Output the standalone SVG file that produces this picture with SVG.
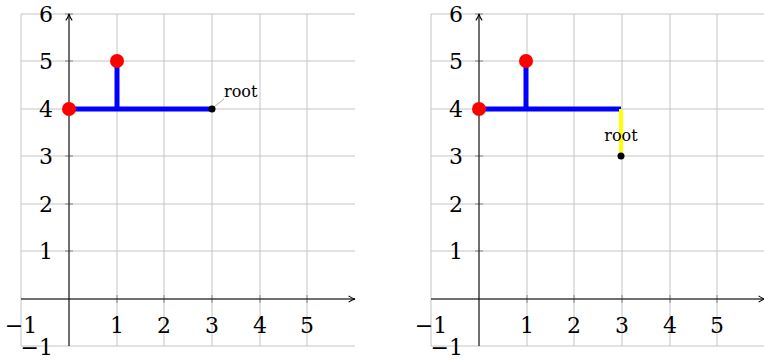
<svg xmlns="http://www.w3.org/2000/svg" width="764" height="360" viewBox="0 0 764 360">
<style>
.grid{stroke:#c4c4c4;stroke-width:1;fill:none}
.axis{stroke:#000;stroke-width:1;fill:none}
.tick{stroke:#888;stroke-width:1}
.num{font-family:'DejaVu Serif',serif;font-size:22px;fill:#000}
.lbl{font-family:'DejaVu Serif',serif;font-size:16px;fill:#000}
.edge{stroke:#0000ff;stroke-width:5;fill:none}
.yel{stroke:#ffff00;stroke-width:4;fill:none}
.red{fill:#ff0000}
.blk{fill:#000}
</style>
<defs>
<marker id="arr" viewBox="0 0 10 10" refX="9" refY="5" markerWidth="8" markerHeight="8" markerUnits="userSpaceOnUse" orient="auto">
<path d="M1,1 Q5,4 9,5 Q5,6 1,9" fill="none" stroke="#000" stroke-width="1.3"/>
</marker>
</defs>
<g id="plot-left">
<g class="grid">
<path d="M21,14V346M69,14V346M117,14V346M164,14V346M212,14V346M260,14V346M307,14V346"/>
<path d="M21,14H355M21,61H355M21,109H355M21,156H355M21,204H355M21,251H355M21,299H355M21,346H355"/>
</g>
<g class="tick">
<path d="M117,295V303M164,295V303M212,295V303M260,295V303M307,295V303M65,61H73M65,109H73M65,156H73M65,204H73M65,251H73M65,14H73"/>
</g>
<path class="axis" d="M21,299H355" marker-end="url(#arr)"/>
<path class="axis" d="M69,346V14" marker-end="url(#arr)"/>
<g class="num" text-anchor="middle">
<text x="21" y="333">−1</text>
<text x="117" y="333">1</text>
<text x="164" y="333">2</text>
<text x="212" y="333">3</text>
<text x="260" y="333">4</text>
<text x="307" y="333">5</text>
</g>
<g class="num" text-anchor="end">
<text x="53" y="22">6</text>
<text x="53" y="69">5</text>
<text x="53" y="117">4</text>
<text x="53" y="164">3</text>
<text x="53" y="212">2</text>
<text x="53" y="259">1</text>
<text x="53" y="355">−1</text>
</g>
</g>
<g id="plot-right" transform="translate(410,0)">
<g class="grid">
<path d="M21,14V346M69,14V346M117,14V346M164,14V346M212,14V346M260,14V346M307,14V346"/>
<path d="M21,14H355M21,61H355M21,109H355M21,156H355M21,204H355M21,251H355M21,299H355M21,346H355"/>
</g>
<g class="tick">
<path d="M117,295V303M164,295V303M212,295V303M260,295V303M307,295V303M65,61H73M65,109H73M65,156H73M65,204H73M65,251H73M65,14H73"/>
</g>
<path class="axis" d="M21,299H355" marker-end="url(#arr)"/>
<path class="axis" d="M69,346V14" marker-end="url(#arr)"/>
<g class="num" text-anchor="middle">
<text x="21" y="333">−1</text>
<text x="117" y="333">1</text>
<text x="164" y="333">2</text>
<text x="212" y="333">3</text>
<text x="260" y="333">4</text>
<text x="307" y="333">5</text>
</g>
<g class="num" text-anchor="end">
<text x="53" y="22">6</text>
<text x="53" y="69">5</text>
<text x="53" y="117">4</text>
<text x="53" y="164">3</text>
<text x="53" y="212">2</text>
<text x="53" y="259">1</text>
<text x="53" y="355">−1</text>
</g>
</g>
<g id="connectors">
<path class="edge" d="M69,109H212M117,109V61"/>
<path class="edge" d="M479,109H621M526,109V61"/>
<path class="yel" d="M621,109V156"/>
<path d="M214,107L224,99" stroke="#999" stroke-width="0.8"/>
</g>
<g id="n1-a"><circle class="red" cx="69" cy="109" r="7"/></g>
<g id="n2-a"><circle class="red" cx="117" cy="61" r="7"/></g>
<g id="root-a"><circle class="blk" cx="212" cy="109" r="3.5"/><text class="lbl" x="224" y="97">root</text></g>
<g id="n1-b"><circle class="red" cx="479" cy="109" r="7"/></g>
<g id="n2-b"><circle class="red" cx="526" cy="61" r="7"/></g>
<g id="root-b"><circle class="blk" cx="621" cy="156" r="3.5"/><text class="lbl" x="621" y="141" text-anchor="middle">root</text></g>
</svg>
